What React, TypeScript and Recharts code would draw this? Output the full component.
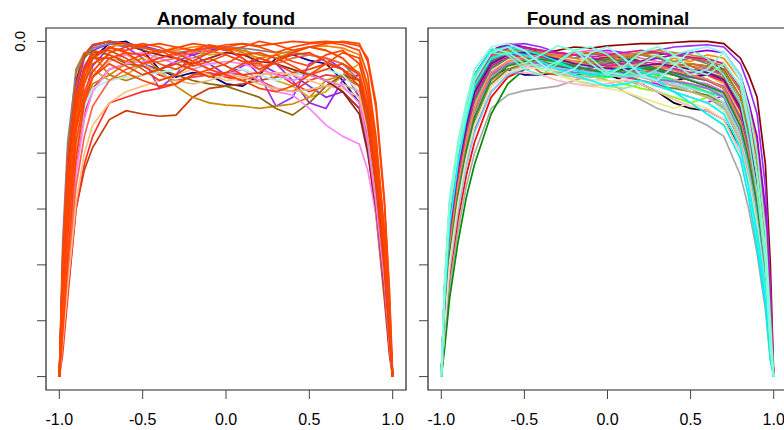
import React from 'react';
import { LineChart, Line, XAxis, YAxis, ReferenceArea } from 'recharts';

// shared x grid
const xs = [-1, -0.98, -0.95, -0.9, -0.85, -0.8, -0.7, -0.6, -0.5, -0.4, -0.3, -0.2, -0.1, 0, 0.1, 0.2, 0.3, 0.4, 0.5, 0.6, 0.7, 0.8, 0.85, 0.9, 0.95, 0.98, 1];
const xTicks = [-1, -0.5, 0, 0.5, 1];
const xTickLabels = ['-1.0', '-0.5', '0.0', '0.5', '1.0'];
const yTicks = [0, -0.5, -1, -1.5, -2, -2.5, -3];
const yTickLabels = ['0.0', '', '', '', '', '', ''];
const titles = ['Anomaly found', 'Found as nominal'];

// ---- Anomaly found ----
const a01 = [-3.0,-2.4,-1.6,-0.75,-0.35,-0.15,-0.02,0,-0.08,-0.25,-0.32,-0.28,-0.3,-0.38,-0.4,-0.3,-0.15,-0.12,-0.17,-0.2,-0.35,-0.55,-0.9,-1.35,-2.1,-2.6,-3.0];
const a02 = [-3.0,-2.3,-1.5,-0.6,-0.25,-0.08,-0.02,-0.05,-0.15,-0.42,-0.3,-0.1,-0.05,-0.08,-0.15,-0.3,-0.58,-0.5,-0.2,-0.15,-0.25,-0.5,-0.85,-1.4,-2.2,-2.7,-3.0];
const a03 = [-3.0,-2.5,-1.9,-1.0,-0.5,-0.22,-0.05,-0.1,-0.2,-0.25,-0.18,-0.12,-0.2,-0.3,-0.22,-0.15,-0.2,-0.35,-0.55,-0.6,-0.35,-0.3,-0.65,-1.25,-2.0,-2.6,-3.0];
const a04 = [-3.0,-2.2,-1.3,-0.45,-0.15,-0.04,0,-0.02,-0.04,-0.08,-0.1,-0.12,-0.08,-0.05,-0.1,-0.2,-0.28,-0.3,-0.4,-0.5,-0.45,-0.6,-0.95,-1.5,-2.2,-2.75,-3.0];
const a05 = [-3.0,-2.7,-2.25,-1.5,-1.15,-0.95,-0.7,-0.62,-0.65,-0.67,-0.66,-0.5,-0.42,-0.4,-0.38,-0.35,-0.32,-0.3,-0.28,-0.35,-0.45,-0.6,-0.95,-1.55,-2.3,-2.8,-3.0];
const a06 = [-3.0,-2.8,-2.3,-1.5,-1.1,-0.85,-0.55,-0.5,-0.45,-0.42,-0.38,-0.3,-0.28,-0.32,-0.35,-0.3,-0.28,-0.38,-0.45,-0.4,-0.3,-0.35,-0.65,-1.15,-1.9,-2.5,-3.0];
const a07 = [-3.0,-2.5,-1.9,-1.1,-0.65,-0.42,-0.25,-0.2,-0.22,-0.3,-0.35,-0.32,-0.3,-0.28,-0.3,-0.35,-0.42,-0.45,-0.35,-0.3,-0.32,-0.4,-0.7,-1.25,-2.0,-2.6,-3.0];
const a08 = [-3.0,-2.4,-1.7,-0.95,-0.55,-0.38,-0.3,-0.2,-0.15,-0.25,-0.4,-0.5,-0.55,-0.57,-0.58,-0.6,-0.58,-0.56,-0.5,-0.35,-0.3,-0.4,-0.75,-1.35,-2.1,-2.65,-3.0];
const a09 = [-3.0,-2.1,-1.35,-0.6,-0.32,-0.25,-0.35,-0.3,-0.2,-0.1,-0.05,-0.08,-0.12,-0.1,-0.05,-0.2,-0.35,-0.4,-0.5,-0.45,-0.3,-0.2,-0.45,-1.0,-1.8,-2.5,-3.0];
const a10 = [-3.0,-2.0,-1.1,-0.35,-0.14,-0.08,-0.12,-0.2,-0.22,-0.25,-0.3,-0.35,-0.38,-0.4,-0.45,-0.5,-0.6,-0.66,-0.55,-0.4,-0.3,-0.35,-0.7,-1.25,-2.0,-2.6,-3.0];
const a11 = [-3.0,-1.9,-1.0,-0.25,-0.1,-0.12,-0.3,-0.35,-0.3,-0.25,-0.2,-0.15,-0.1,-0.05,-0.08,-0.12,-0.15,-0.1,-0.05,-0.08,-0.15,-0.3,-0.6,-1.15,-1.9,-2.55,-3.0];
const a12 = [-3.0,-2.6,-2.1,-1.2,-0.7,-0.45,-0.25,-0.2,-0.18,-0.15,-0.12,-0.15,-0.25,-0.3,-0.25,-0.35,-0.45,-0.48,-0.6,-0.75,-0.85,-0.92,-1.15,-1.55,-2.2,-2.7,-3.0];
const a13 = [-3.0,-2.5,-1.85,-1.05,-0.6,-0.42,-0.35,-0.32,-0.3,-0.28,-0.25,-0.22,-0.2,-0.22,-0.25,-0.3,-0.35,-0.3,-0.28,-0.25,-0.3,-0.45,-0.75,-1.3,-2.0,-2.6,-3.0];
const a14 = [-3.0,-2.7,-2.2,-1.45,-1.0,-0.75,-0.55,-0.45,-0.4,-0.35,-0.3,-0.25,-0.3,-0.35,-0.33,-0.3,-0.28,-0.3,-0.35,-0.4,-0.42,-0.5,-0.8,-1.35,-2.1,-2.65,-3.0];
const a15 = [-3.0,-2.4,-1.75,-0.95,-0.5,-0.3,-0.18,-0.12,-0.2,-0.28,-0.35,-0.38,-0.35,-0.3,-0.32,-0.38,-0.42,-0.45,-0.43,-0.4,-0.38,-0.45,-0.75,-1.3,-2.0,-2.6,-3.0];
const a16 = [-3.0,-2.0,-1.1,-0.35,-0.12,-0.03,0,-0.03,-0.08,-0.12,-0.15,-0.2,-0.15,-0.1,-0.12,-0.18,-0.2,-0.25,-0.3,-0.35,-0.45,-0.65,-1.0,-1.5,-2.2,-2.7,-3.0];
const a17 = [-3.0,-1.8,-0.9,-0.28,-0.12,-0.06,-0.02,-0.04,-0.06,-0.08,-0.1,-0.08,-0.06,-0.05,-0.06,-0.08,-0.1,-0.1,-0.12,-0.15,-0.2,-0.35,-0.7,-1.3,-2.0,-2.6,-3.0];
const a18 = [-3.0,-2.5,-1.85,-1.05,-0.55,-0.32,-0.15,-0.12,-0.1,-0.15,-0.2,-0.25,-0.2,-0.18,-0.2,-0.25,-0.3,-0.35,-0.3,-0.35,-0.4,-0.55,-0.9,-1.45,-2.15,-2.7,-3.0];
const a19 = [-3.0,-2.2,-1.5,-0.7,-0.35,-0.16,-0.05,-0.02,-0.05,-0.1,-0.08,-0.05,-0.04,-0.06,-0.1,-0.15,-0.12,-0.08,-0.05,-0.04,-0.06,-0.12,-0.4,-0.95,-1.75,-2.45,-3.0];
const a20 = [-3.0,-2.6,-2.05,-1.3,-0.85,-0.58,-0.35,-0.25,-0.2,-0.18,-0.15,-0.1,-0.08,-0.12,-0.18,-0.22,-0.2,-0.15,-0.12,-0.15,-0.2,-0.28,-0.55,-1.05,-1.85,-2.5,-3.0];
const a21 = [-3.0,-2.4,-1.75,-0.9,-0.5,-0.32,-0.2,-0.28,-0.35,-0.4,-0.38,-0.3,-0.25,-0.3,-0.35,-0.42,-0.45,-0.4,-0.3,-0.25,-0.2,-0.3,-0.6,-1.15,-1.9,-2.55,-3.0];
const a22 = [-3.0,-2.3,-1.6,-0.8,-0.45,-0.27,-0.1,-0.05,-0.02,-0.05,-0.12,-0.08,-0.03,-0.06,-0.15,-0.25,-0.18,-0.1,-0.05,-0.08,-0.15,-0.3,-0.6,-1.1,-1.95,-2.6,-3.0];
const a23 = [-3.0,-2.1,-1.25,-0.5,-0.22,-0.1,-0.08,-0.15,-0.25,-0.35,-0.3,-0.2,-0.15,-0.22,-0.3,-0.28,-0.18,-0.12,-0.1,-0.18,-0.25,-0.4,-0.75,-1.3,-2.05,-2.65,-3.0];
const a24 = [-3.0,-2.6,-1.95,-1.05,-0.55,-0.32,-0.15,-0.1,-0.12,-0.2,-0.25,-0.18,-0.1,-0.05,-0.02,-0.05,-0.1,-0.05,-0.02,-0.01,-0.03,-0.08,-0.3,-0.85,-1.7,-2.4,-3.0];
const a25 = [-3.0,-2.05,-1.2,-0.55,-0.27,-0.15,-0.15,-0.22,-0.3,-0.25,-0.2,-0.25,-0.32,-0.28,-0.2,-0.15,-0.2,-0.28,-0.25,-0.2,-0.25,-0.35,-0.65,-1.2,-1.95,-2.6,-3.0];
const a26 = [-3.0,-2.3,-1.5,-0.75,-0.38,-0.2,-0.12,-0.18,-0.12,-0.08,-0.15,-0.22,-0.18,-0.12,-0.18,-0.2,-0.12,-0.18,-0.22,-0.12,-0.08,-0.2,-0.5,-1.0,-1.8,-2.5,-3.0];
const a27 = [-3.0,-2.15,-1.35,-0.65,-0.32,-0.15,-0.05,-0.1,-0.2,-0.15,-0.1,-0.18,-0.25,-0.2,-0.12,-0.1,-0.15,-0.22,-0.3,-0.2,-0.1,-0.15,-0.4,-0.9,-1.7,-2.45,-3.0];
const a28 = [-3.0,-2.1,-1.3,-0.6,-0.27,-0.12,-0.06,-0.08,-0.04,-0.02,-0.05,-0.08,-0.06,-0.03,-0.02,-0.04,-0.02,0,-0.01,0,-0.01,-0.04,-0.15,-0.55,-1.4,-2.2,-3.0];
const a29 = [-3.0,-1.95,-1.05,-0.4,-0.12,-0.03,0,-0.02,-0.05,-0.1,-0.06,-0.02,-0.04,-0.08,-0.05,0,-0.03,-0.08,-0.05,-0.02,0,-0.02,-0.18,-0.6,-1.45,-2.25,-3.0];

const anomalySeries = [a01,a02,a03,a04,a05,a06,a07,a08,a09,a10,a11,a12,a13,a14,a15,a16,a17,a18,a19,a20,a21,a22,a23,a24,a25,a26,a27,a28,a29];
const anomalyColors = ['#00008B','#9B30FF','#A020F0','#8A2BE2','#CD3700','#FF3030','#EE3B3B','#CD8500','#DAA520','#8B6508','#B8860B','#FF83FA','#AEEEEE','#FFC080','#DEB887','#8B2323','#8B7B8B','#EE82EE','#FF7F00','#FF6347','#FF4500','#FF4500','#EE4000','#FF4500','#EE4000','#FF4500','#FF4500','#FF4500','#FF4500'];

// ---- Found as nominal ----
const n01 = [-3.0,-2.2,-1.45,-0.95,-0.6,-0.3,-0.08,-0.02,-0.05,-0.1,-0.08,-0.05,-0.06,-0.04,-0.03,-0.02,-0.02,-0.01,0,0,-0.02,-0.15,-0.3,-0.5,-1.1,-2.0,-3.0];
const n02 = [-3.0,-2.3,-1.6,-1.05,-0.65,-0.35,-0.1,-0.03,-0.02,-0.05,-0.1,-0.12,-0.1,-0.08,-0.1,-0.12,-0.08,-0.05,-0.04,-0.03,-0.05,-0.2,-0.4,-0.65,-1.3,-2.2,-3.0];
const n03 = [-3.0,-2.4,-1.7,-1.15,-0.75,-0.45,-0.15,-0.08,-0.1,-0.2,-0.25,-0.2,-0.15,-0.22,-0.28,-0.25,-0.2,-0.15,-0.18,-0.12,-0.15,-0.35,-0.6,-0.9,-1.6,-2.4,-3.0];
const n04 = [-3.0,-2.7,-2.2,-1.7,-1.3,-1.0,-0.6,-0.48,-0.44,-0.42,-0.4,-0.35,-0.3,-0.35,-0.45,-0.52,-0.6,-0.65,-0.68,-0.75,-0.85,-1.2,-1.5,-1.9,-2.4,-2.85,-3.0];
const n05 = [-3.0,-2.75,-2.3,-1.8,-1.4,-1.1,-0.65,-0.38,-0.25,-0.2,-0.18,-0.22,-0.2,-0.15,-0.12,-0.18,-0.25,-0.3,-0.35,-0.4,-0.45,-0.7,-1.0,-1.4,-2.0,-2.6,-3.0];
const n06 = [-3.0,-2.5,-1.9,-1.35,-0.95,-0.65,-0.3,-0.2,-0.18,-0.2,-0.25,-0.3,-0.28,-0.3,-0.35,-0.38,-0.45,-0.55,-0.6,-0.62,-0.7,-0.95,-1.25,-1.6,-2.1,-2.7,-3.0];
const n07 = [-3.0,-2.45,-1.8,-1.25,-0.85,-0.55,-0.3,-0.25,-0.3,-0.3,-0.28,-0.25,-0.28,-0.32,-0.28,-0.25,-0.3,-0.35,-0.32,-0.3,-0.35,-0.6,-0.9,-1.3,-1.9,-2.6,-3.0];
const n08 = [-3.0,-2.3,-1.6,-1.05,-0.7,-0.42,-0.2,-0.15,-0.18,-0.22,-0.25,-0.28,-0.3,-0.35,-0.38,-0.42,-0.45,-0.5,-0.55,-0.5,-0.55,-0.8,-1.1,-1.5,-2.1,-2.7,-3.0];
const n09 = [-3.0,-2.55,-1.95,-1.45,-1.05,-0.75,-0.4,-0.28,-0.22,-0.2,-0.22,-0.25,-0.22,-0.2,-0.25,-0.3,-0.32,-0.35,-0.42,-0.5,-0.58,-0.85,-1.15,-1.55,-2.1,-2.7,-3.0];
const n10 = [-3.0,-2.4,-1.75,-1.2,-0.8,-0.5,-0.22,-0.12,-0.08,-0.1,-0.12,-0.15,-0.12,-0.1,-0.15,-0.2,-0.22,-0.18,-0.15,-0.2,-0.28,-0.55,-0.85,-1.2,-1.8,-2.5,-3.0];
const n11 = [-3.0,-2.3,-1.55,-1.0,-0.62,-0.32,-0.1,-0.05,-0.08,-0.12,-0.15,-0.12,-0.1,-0.12,-0.15,-0.18,-0.12,-0.1,-0.15,-0.18,-0.25,-0.5,-0.8,-1.15,-1.75,-2.5,-3.0];
const n12 = [-3.0,-2.5,-1.9,-1.4,-1.0,-0.7,-0.35,-0.25,-0.22,-0.2,-0.18,-0.2,-0.25,-0.28,-0.3,-0.32,-0.35,-0.4,-0.45,-0.5,-0.6,-0.9,-1.2,-1.6,-2.2,-2.75,-3.0];
const n13 = [-3.0,-2.35,-1.7,-1.15,-0.75,-0.45,-0.18,-0.1,-0.08,-0.1,-0.12,-0.1,-0.08,-0.1,-0.12,-0.15,-0.18,-0.2,-0.22,-0.25,-0.3,-0.55,-0.85,-1.2,-1.8,-2.55,-3.0];
const n14 = [-3.0,-2.2,-1.5,-1.0,-0.62,-0.3,-0.08,-0.05,-0.1,-0.15,-0.2,-0.25,-0.28,-0.3,-0.32,-0.35,-0.38,-0.45,-0.5,-0.55,-0.48,-0.6,-0.9,-1.3,-1.9,-2.6,-3.0];
const n15 = [-3.0,-2.45,-1.85,-1.3,-0.9,-0.6,-0.28,-0.18,-0.15,-0.12,-0.1,-0.12,-0.15,-0.2,-0.22,-0.2,-0.25,-0.3,-0.35,-0.38,-0.45,-0.75,-1.05,-1.45,-2.0,-2.65,-3.0];
const n16 = [-3.0,-2.5,-1.85,-1.3,-0.9,-0.6,-0.3,-0.2,-0.15,-0.12,-0.15,-0.2,-0.22,-0.18,-0.15,-0.12,-0.15,-0.2,-0.25,-0.3,-0.38,-0.65,-0.95,-1.35,-1.95,-2.6,-3.0];
const n17 = [-3.0,-2.3,-1.6,-1.05,-0.68,-0.38,-0.15,-0.1,-0.12,-0.2,-0.28,-0.35,-0.38,-0.4,-0.42,-0.38,-0.35,-0.38,-0.4,-0.42,-0.5,-0.75,-1.05,-1.45,-2.0,-2.65,-3.0];
const n18 = [-3.0,-2.4,-1.7,-1.15,-0.78,-0.5,-0.25,-0.18,-0.2,-0.25,-0.3,-0.35,-0.4,-0.42,-0.45,-0.5,-0.55,-0.6,-0.55,-0.6,-0.7,-1.0,-1.3,-1.7,-2.2,-2.75,-3.0];
const n19 = [-3.0,-2.2,-1.5,-0.98,-0.6,-0.3,-0.1,-0.06,-0.05,-0.08,-0.12,-0.15,-0.18,-0.15,-0.12,-0.1,-0.08,-0.1,-0.12,-0.15,-0.2,-0.4,-0.65,-1.0,-1.6,-2.4,-3.0];
const n20 = [-3.0,-2.35,-1.65,-1.1,-0.72,-0.42,-0.18,-0.12,-0.12,-0.15,-0.18,-0.2,-0.22,-0.25,-0.25,-0.22,-0.2,-0.22,-0.25,-0.28,-0.35,-0.6,-0.9,-1.25,-1.85,-2.55,-3.0];
const n21 = [-3.0,-2.3,-1.6,-1.05,-0.68,-0.38,-0.15,-0.08,-0.1,-0.14,-0.16,-0.18,-0.16,-0.14,-0.18,-0.22,-0.25,-0.22,-0.2,-0.22,-0.3,-0.55,-0.85,-1.2,-1.8,-2.5,-3.0];
const n22 = [-3.0,-2.6,-2.1,-1.6,-1.2,-0.9,-0.5,-0.32,-0.25,-0.22,-0.2,-0.22,-0.25,-0.3,-0.32,-0.3,-0.28,-0.3,-0.35,-0.4,-0.48,-0.78,-1.1,-1.5,-2.05,-2.7,-3.0];
const n23 = [-3.0,-2.5,-1.9,-1.38,-1.0,-0.7,-0.38,-0.28,-0.28,-0.3,-0.35,-0.38,-0.4,-0.38,-0.35,-0.38,-0.45,-0.52,-0.58,-0.62,-0.7,-1.0,-1.3,-1.7,-2.25,-2.8,-3.0];
const n24 = [-3.0,-2.4,-1.75,-1.2,-0.82,-0.52,-0.25,-0.15,-0.12,-0.15,-0.2,-0.22,-0.2,-0.18,-0.2,-0.25,-0.3,-0.35,-0.4,-0.45,-0.5,-0.8,-1.1,-1.5,-2.05,-2.7,-3.0];
const n25 = [-3.0,-2.45,-1.8,-1.25,-0.85,-0.55,-0.28,-0.2,-0.18,-0.22,-0.26,-0.3,-0.32,-0.3,-0.28,-0.3,-0.35,-0.4,-0.42,-0.45,-0.55,-0.85,-1.15,-1.55,-2.1,-2.7,-3.0];
const n26 = [-3.0,-2.25,-1.55,-1.02,-0.65,-0.35,-0.12,-0.08,-0.1,-0.15,-0.22,-0.28,-0.3,-0.25,-0.2,-0.22,-0.3,-0.38,-0.45,-0.5,-0.6,-0.95,-1.3,-1.75,-2.3,-2.8,-3.0];
const n27 = [-3.0,-2.55,-2.0,-1.5,-1.1,-0.8,-0.45,-0.3,-0.25,-0.22,-0.22,-0.25,-0.28,-0.3,-0.28,-0.25,-0.22,-0.25,-0.3,-0.35,-0.42,-0.7,-1.0,-1.4,-1.95,-2.6,-3.0];
const n28 = [-3.0,-2.3,-1.6,-1.05,-0.68,-0.4,-0.18,-0.12,-0.18,-0.28,-0.3,-0.22,-0.15,-0.18,-0.25,-0.3,-0.25,-0.2,-0.22,-0.28,-0.32,-0.55,-0.85,-1.2,-1.8,-2.5,-3.0];
const n29 = [-3.0,-2.4,-1.75,-1.2,-0.8,-0.5,-0.22,-0.15,-0.15,-0.18,-0.2,-0.18,-0.15,-0.18,-0.22,-0.25,-0.22,-0.2,-0.25,-0.3,-0.38,-0.65,-0.95,-1.3,-1.9,-2.6,-3.0];
const n30 = [-3.0,-2.2,-1.5,-0.98,-0.6,-0.3,-0.08,-0.03,-0.05,-0.08,-0.1,-0.12,-0.15,-0.18,-0.2,-0.18,-0.15,-0.12,-0.1,-0.08,-0.1,-0.3,-0.55,-0.85,-1.5,-2.35,-3.0];
const n31 = [-3.0,-2.5,-1.95,-1.42,-1.02,-0.72,-0.38,-0.25,-0.2,-0.18,-0.2,-0.22,-0.25,-0.28,-0.3,-0.35,-0.4,-0.42,-0.45,-0.48,-0.55,-0.85,-1.15,-1.6,-2.15,-2.75,-3.0];
const n32 = [-3.0,-2.35,-1.68,-1.12,-0.74,-0.44,-0.2,-0.12,-0.1,-0.12,-0.15,-0.18,-0.2,-0.22,-0.24,-0.26,-0.28,-0.3,-0.32,-0.35,-0.4,-0.68,-0.98,-1.38,-1.95,-2.6,-3.0];
const n33 = [-3.0,-2.45,-1.82,-1.28,-0.88,-0.58,-0.28,-0.18,-0.15,-0.16,-0.2,-0.25,-0.28,-0.25,-0.22,-0.25,-0.3,-0.34,-0.38,-0.42,-0.5,-0.8,-1.1,-1.5,-2.05,-2.7,-3.0];
const n34 = [-3.0,-2.3,-1.62,-1.08,-0.7,-0.4,-0.16,-0.1,-0.1,-0.14,-0.2,-0.24,-0.22,-0.18,-0.16,-0.2,-0.26,-0.3,-0.28,-0.25,-0.3,-0.55,-0.85,-1.2,-1.8,-2.5,-3.0];
const n35 = [-3.0,-2.5,-1.9,-1.35,-0.95,-0.65,-0.32,-0.22,-0.2,-0.22,-0.28,-0.32,-0.35,-0.32,-0.3,-0.32,-0.36,-0.4,-0.45,-0.5,-0.58,-0.9,-1.2,-1.6,-2.15,-2.75,-3.0];
const n36 = [-3.0,-2.4,-1.75,-1.22,-0.82,-0.52,-0.24,-0.15,-0.12,-0.14,-0.18,-0.2,-0.18,-0.16,-0.18,-0.22,-0.25,-0.28,-0.3,-0.34,-0.42,-0.7,-1.0,-1.4,-2.0,-2.65,-3.0];
const n37 = [-3.0,-2.55,-1.98,-1.45,-1.05,-0.75,-0.4,-0.28,-0.22,-0.2,-0.18,-0.2,-0.24,-0.28,-0.3,-0.32,-0.34,-0.38,-0.42,-0.46,-0.55,-0.85,-1.15,-1.55,-2.1,-2.7,-3.0];
const n38 = [-3.0,-2.3,-1.6,-1.06,-0.7,-0.42,-0.2,-0.14,-0.16,-0.2,-0.22,-0.2,-0.18,-0.22,-0.26,-0.28,-0.25,-0.22,-0.2,-0.24,-0.3,-0.58,-0.88,-1.25,-1.85,-2.55,-3.0];
const n39 = [-3.0,-2.4,-1.72,-1.18,-0.78,-0.48,-0.22,-0.14,-0.12,-0.15,-0.2,-0.25,-0.3,-0.32,-0.3,-0.28,-0.3,-0.35,-0.4,-0.45,-0.5,-0.8,-1.1,-1.5,-2.05,-2.7,-3.0];
const n40 = [-3.0,-2.25,-1.55,-1.02,-0.65,-0.35,-0.12,-0.06,-0.08,-0.12,-0.14,-0.12,-0.1,-0.12,-0.14,-0.12,-0.1,-0.12,-0.15,-0.18,-0.22,-0.45,-0.72,-1.05,-1.65,-2.45,-3.0];
const n41 = [-3.0,-2.5,-1.88,-1.32,-0.92,-0.62,-0.3,-0.2,-0.18,-0.2,-0.24,-0.28,-0.26,-0.24,-0.26,-0.3,-0.34,-0.36,-0.38,-0.42,-0.5,-0.8,-1.1,-1.5,-2.05,-2.7,-3.0];
const n42 = [-3.0,-2.35,-1.65,-1.1,-0.72,-0.42,-0.18,-0.12,-0.14,-0.18,-0.22,-0.25,-0.24,-0.2,-0.18,-0.2,-0.24,-0.28,-0.32,-0.35,-0.42,-0.7,-1.0,-1.4,-1.95,-2.6,-3.0];
const n43 = [-3.0,-2.4,-1.75,-1.2,-0.8,-0.5,-0.22,-0.14,-0.12,-0.14,-0.16,-0.18,-0.2,-0.22,-0.2,-0.18,-0.2,-0.24,-0.28,-0.3,-0.36,-0.62,-0.92,-1.3,-1.9,-2.6,-3.0];
const n44 = [-3.0,-2.6,-2.05,-1.52,-1.12,-0.82,-0.45,-0.3,-0.24,-0.22,-0.24,-0.26,-0.28,-0.3,-0.32,-0.3,-0.28,-0.3,-0.34,-0.4,-0.48,-0.78,-1.08,-1.48,-2.05,-2.7,-3.0];
const n45 = [-3.0,-2.3,-1.6,-1.05,-0.68,-0.38,-0.14,-0.08,-0.08,-0.1,-0.14,-0.18,-0.2,-0.18,-0.15,-0.12,-0.14,-0.18,-0.2,-0.22,-0.26,-0.5,-0.78,-1.12,-1.72,-2.5,-3.0];
const n46 = [-3.0,-2.45,-1.85,-1.3,-0.9,-0.6,-0.28,-0.18,-0.14,-0.12,-0.14,-0.18,-0.22,-0.24,-0.22,-0.2,-0.22,-0.26,-0.3,-0.34,-0.42,-0.72,-1.02,-1.42,-2.0,-2.65,-3.0];
const n47 = [-3.0,-2.5,-1.92,-1.38,-0.98,-0.68,-0.34,-0.22,-0.18,-0.16,-0.18,-0.22,-0.26,-0.28,-0.26,-0.24,-0.26,-0.3,-0.35,-0.4,-0.46,-0.76,-1.06,-1.46,-2.02,-2.68,-3.0];
const n48 = [-3.0,-2.3,-1.58,-1.04,-0.66,-0.36,-0.12,-0.06,-0.06,-0.08,-0.1,-0.12,-0.14,-0.12,-0.1,-0.08,-0.1,-0.12,-0.14,-0.16,-0.2,-0.42,-0.68,-1.0,-1.6,-2.4,-3.0];
const n49 = [-3.0,-2.55,-1.98,-1.45,-1.05,-0.75,-0.4,-0.28,-0.24,-0.24,-0.26,-0.3,-0.34,-0.36,-0.34,-0.36,-0.4,-0.45,-0.5,-0.55,-0.62,-0.95,-1.25,-1.65,-2.2,-2.75,-3.0];
const n50 = [-3.0,-2.35,-1.68,-1.14,-0.76,-0.46,-0.2,-0.12,-0.1,-0.12,-0.16,-0.2,-0.22,-0.24,-0.25,-0.22,-0.2,-0.22,-0.25,-0.28,-0.34,-0.6,-0.9,-1.28,-1.88,-2.58,-3.0];
const n51 = [-3.0,-2.35,-1.65,-1.1,-0.7,-0.4,-0.15,-0.1,-0.12,-0.18,-0.25,-0.3,-0.35,-0.4,-0.38,-0.35,-0.4,-0.45,-0.5,-0.55,-0.65,-0.95,-1.3,-1.7,-2.2,-2.7,-3.0];
const n52 = [-3.0,-2.2,-1.45,-0.95,-0.6,-0.3,-0.08,-0.05,-0.08,-0.12,-0.18,-0.25,-0.3,-0.28,-0.22,-0.25,-0.35,-0.45,-0.55,-0.65,-0.75,-1.05,-1.4,-1.85,-2.35,-2.85,-3.0];
const n53 = [-3.0,-2.25,-1.5,-0.98,-0.62,-0.32,-0.1,-0.12,-0.25,-0.3,-0.2,-0.08,-0.05,-0.12,-0.25,-0.32,-0.25,-0.12,-0.08,-0.15,-0.3,-0.55,-0.9,-1.35,-2.0,-2.75,-3.0];
const n54 = [-3.0,-2.2,-1.5,-1.0,-0.65,-0.35,-0.1,-0.05,-0.15,-0.25,-0.18,-0.08,-0.15,-0.28,-0.3,-0.2,-0.12,-0.2,-0.3,-0.25,-0.1,-0.3,-0.6,-1.0,-1.7,-2.5,-3.0];
const n55 = [-3.0,-2.15,-1.4,-0.92,-0.55,-0.25,-0.05,-0.02,-0.08,-0.2,-0.3,-0.25,-0.1,-0.05,-0.15,-0.3,-0.35,-0.22,-0.08,-0.05,-0.1,-0.35,-0.7,-1.2,-1.9,-2.7,-3.0];
const n56 = [-3.0,-2.15,-1.42,-0.9,-0.55,-0.25,-0.06,-0.1,-0.2,-0.12,-0.04,-0.08,-0.2,-0.3,-0.22,-0.1,-0.05,-0.12,-0.25,-0.3,-0.2,-0.4,-0.75,-1.2,-1.9,-2.7,-3.0];

const nominalSeries = [n01,n02,n03,n04,n05,n06,n07,n08,n09,n10,n11,n12,n13,n14,n15,n16,n17,n18,n19,n20,n21,n22,n23,n24,n25,n26,n27,n28,n29,n30,n31,n32,n33,n34,n35,n36,n37,n38,n39,n40,n41,n42,n43,n44,n45,n46,n47,n48,n49,n50,n51,n52,n53,n54,n55,n56];
const nominalColors = ['#8B0000','#9B30FF','#FF8C00','#A9A9A9','#008B00','#000000','#000080','#7FFF00','#9ACD32','#708090','#2F4F4F','#FA8072','#FF69B4','#FF00FF','#DA70D6','#4682B4','#90EE90','#F0E68C','#CD853F','#A0522D','#B22222','#FF0000','#FFB6C1','#DDA0DD','#8FBC8F','#40E0D0','#4169E1','#CD6600','#FFD700','#9400D3','#6B8E23','#BA55D3','#FFA07A','#1E90FF','#D2B48C','#2E8B57','#ADD8E6','#CD5C5C','#00FF7F','#D2691E','#9370DB','#666666','#FF1493','#87CEEB','#B8860B','#FF7F50','#228B22','#D02090','#F5DEB3','#551A8B','#00FFFF','#00EEEE','#76EEC6','#7FFFD4','#98F5FF','#7FFFD4'];

const FONT = '"Liberation Sans", Arial, sans-serif';

function buildRows(series: number[][]) {
  return xs.map((x, i) => {
    const row: Record<string, number> = { x };
    series.forEach((s, j) => { row['s' + j] = s[i]; });
    return row;
  });
}

const XTick = (props: any) => {
  const { x, y, payload } = props;
  const idx = xTicks.indexOf(payload.value);
  return (
    <text x={x} y={y + 24} textAnchor="middle" fontSize={16} fontFamily={FONT} fill="#000">
      {idx >= 0 ? xTickLabels[idx] : ''}
    </text>
  );
};

const makeYTick = (show: boolean) => (props: any) => {
  const { x, y, payload } = props;
  const idx = yTicks.indexOf(payload.value);
  const label = show && idx >= 0 ? yTickLabels[idx] : '';
  const px = x - 10;
  return (
    <text x={px} y={y} transform={`rotate(-90, ${px}, ${y})`} textAnchor="middle" fontSize={15} fontFamily={FONT} fill="#000">
      {label}
    </text>
  );
};

function Panel({ series, colors, left, rightMargin, showY, width }: any) {
  const rows = buildRows(series);
  return (
    <div style={{ position: 'absolute', left, top: 0, width, height: 430 }}>
      <LineChart width={width} height={430} data={rows} margin={{ top: 28, right: rightMargin, bottom: 0, left: 0 }}>
        <XAxis dataKey="x" type="number" domain={[-1.08, 1.08]} ticks={xTicks} allowDataOverflow
          axisLine={false} tickSize={9} tickLine={{ stroke: '#444' }} height={40} tick={XTick} interval={0} />
        <YAxis type="number" domain={[-3.12, 0.12]} ticks={yTicks} allowDataOverflow width={46}
          axisLine={false} tickSize={9} tickLine={{ stroke: '#444' }} tick={makeYTick(showY)} interval={0} />
        <ReferenceArea x1={-1.08} x2={1.08} y1={-3.12} y2={0.12} fill="none" stroke="#222" strokeWidth={1.2} ifOverflow="visible" />
        {series.map((_: any, j: number) => (
          <Line key={j} dataKey={'s' + j} stroke={colors[j]} strokeWidth={1.7} dot={false}
            isAnimationActive={false} type="linear" />
        ))}
      </LineChart>
    </div>
  );
}

export default function App() {
  return (
    <div style={{ position: 'absolute', left: 0, top: 0, width: 784, height: 430, overflow: 'hidden', background: '#fff' }}>
      <Panel series={anomalySeries} colors={anomalyColors} left={0} width={420} rightMargin={14} showY={true} />
      <Panel series={nominalSeries} colors={nominalColors} left={382} width={420} rightMargin={15} showY={false} />
      <svg width={784} height={430} style={{ position: 'absolute', left: 0, top: 0, pointerEvents: 'none' }}>
        <text x={226} y={25} textAnchor="middle" fontSize={19} fontWeight="bold" fontFamily={FONT} fill="#000">{titles[0]}</text>
        <text x={608} y={25} textAnchor="middle" fontSize={19} fontWeight="bold" fontFamily={FONT} fill="#000">{titles[1]}</text>
      </svg>
    </div>
  );
}
